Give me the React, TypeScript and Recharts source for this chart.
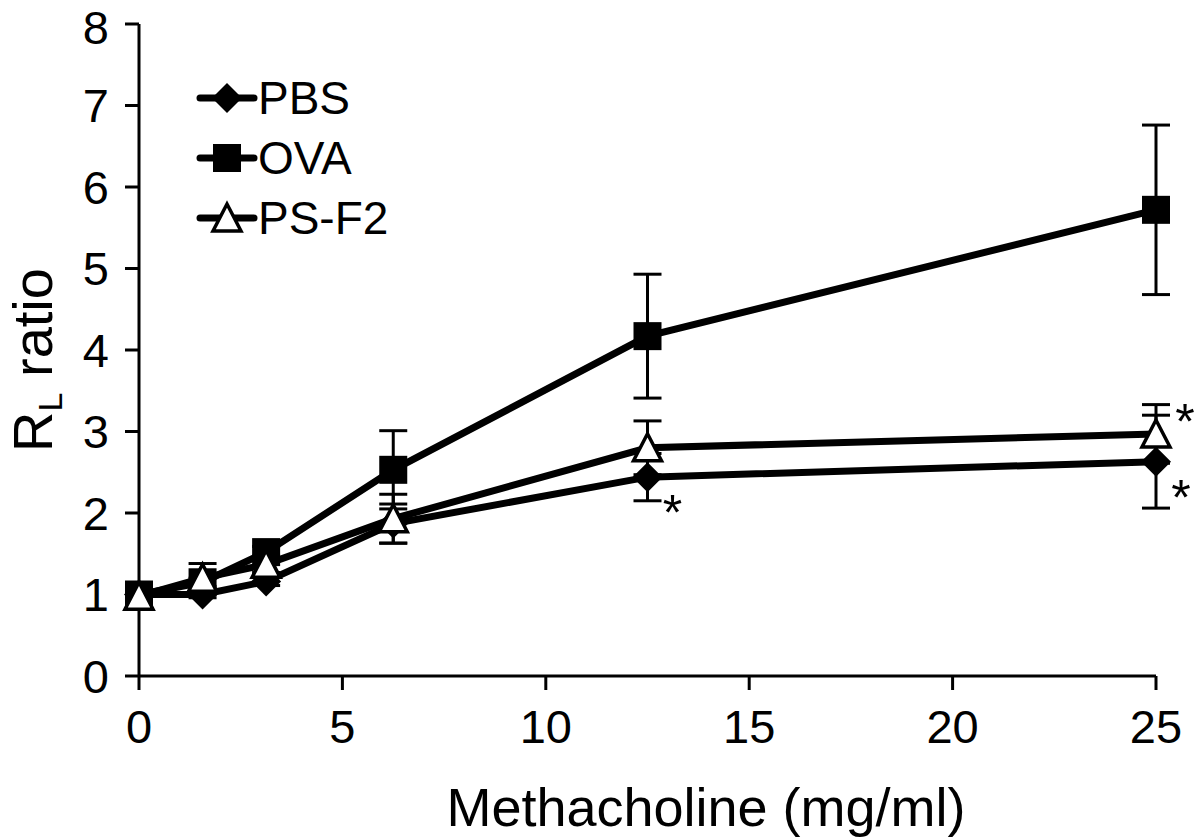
import {
  ErrorBar,
  LabelList,
  Legend,
  Line,
  LineChart,
  XAxis,
  YAxis,
  Label,
} from 'recharts'

// methacholine doses (mg/ml)
const doses = [0, 1.5625, 3.125, 6.25, 12.5, 25]

const pbsMean = [1.0, 1.0, 1.16, 1.87, 2.44, 2.63]
const pbsSem = [0.03, 0.04, 0.05, 0.24, 0.29, 0.57]
const ovaMean = [1.0, 1.15, 1.52, 2.53, 4.17, 5.72]
const ovaSem = [0.03, 0.05, 0.07, 0.48, 0.76, 1.04]
const psMean = [0.98, 1.2, 1.37, 1.93, 2.8, 2.97]
const psSem = [0.03, 0.18, 0.1, 0.3, 0.33, 0.36]

// significance marks
const pbsStars = ['', '', '', '', '*', '*']
const psStars = ['', '', '', '', '', '*']

const xTicks = [0, 5, 10, 15, 20, 25]
const yTicks = [0, 1, 2, 3, 4, 5, 6, 7, 8]

const rows = doses.map((dose, i) => ({
  dose,
  pbs: pbsMean[i],
  pbsErr: pbsSem[i],
  ova: ovaMean[i],
  ovaErr: ovaSem[i],
  ps: psMean[i],
  psErr: psSem[i],
  pbsStar: pbsStars[i],
  psStar: psStars[i],
}))

const FONT = '"Liberation Sans", Arial, sans-serif'

// markers
function Diamond({ cx, cy, r = 15 }: { cx: number; cy: number; r?: number }) {
  return (
    <polygon
      points={`${cx},${cy - r} ${cx + r},${cy} ${cx},${cy + r} ${cx - r},${cy}`}
      fill="#000"
    />
  )
}

function Square({ cx, cy, s = 28 }: { cx: number; cy: number; s?: number }) {
  return <rect x={cx - s / 2} y={cy - s / 2} width={s} height={s} fill="#000" />
}

function Triangle({ cx, cy, r = 14 }: { cx: number; cy: number; r?: number }) {
  return (
    <polygon
      points={`${cx},${cy - r} ${cx + r},${cy + r - 1} ${cx - r},${cy + r - 1}`}
      fill="#fff"
      stroke="#000"
      strokeWidth={3.5}
      strokeLinejoin="miter"
    />
  )
}

const SERIES = [
  { name: 'PBS', Marker: Diamond },
  { name: 'OVA', Marker: Square },
  { name: 'PS-F2', Marker: Triangle },
]

function LegendBox() {
  return (
    <div style={{ fontFamily: FONT }}>
      {SERIES.map(({ name, Marker }) => (
        <div key={name} style={{ display: 'flex', alignItems: 'center', height: 60 }}>
          <svg width={62} height={40} style={{ overflow: 'visible' }}>
            <line x1={4} y1={20} x2={58} y2={20} stroke="#000" strokeWidth={7} strokeLinecap="round" />
            <Marker cx={31} cy={20} />
          </svg>
          <span style={{ fontSize: 46, lineHeight: 1, color: '#000' }}>{name}</span>
        </div>
      ))}
    </div>
  )
}

// eslint-disable-next-line @typescript-eslint/no-explicit-any
const starLabel = (dx: number, dy: number) => (p: any) => {
  if (!p.value) return null
  return (
    <text
      x={p.x + dx}
      y={p.y + dy + 28}
      textAnchor="middle"
      fontSize={50}
      fontFamily={FONT}
      fill="#000"
    >
      {p.value}
    </text>
  )
}

function YTitle() {
  return (
    <text
      x={52}
      y={360}
      transform="rotate(-90 52 360)"
      textAnchor="middle"
      fontSize={56}
      fontFamily={FONT}
      fill="#000"
    >
      R<tspan fontSize={34} dy={10}>L</tspan>
      <tspan dy={-10}> ratio</tspan>
    </text>
  )
}

function XTitle() {
  return (
    <text x={706} y={826} textAnchor="middle" fontSize={54} fontFamily={FONT} fill="#000">
      Methacholine (mg/ml)
    </text>
  )
}

const axisStroke = { stroke: '#000', strokeWidth: 3 }

export default function App() {
  return (
    <div style={{ position: 'absolute', left: 0, top: 0, background: '#fff' }}>
      <LineChart
        width={1200}
        height={840}
        data={rows}
        margin={{ top: 24, right: 44, left: 0, bottom: 0 }}
      >
        <XAxis
          dataKey="dose"
          type="number"
          domain={[0, 25]}
          ticks={xTicks}
          height={164}
          axisLine={axisStroke}
          tickLine={axisStroke}
          tickSize={14}
          tickMargin={20}
          tick={{ fill: '#000', fontSize: 47, fontFamily: FONT }}
        >
          <Label content={XTitle} />
        </XAxis>
        <YAxis
          type="number"
          domain={[0, 8]}
          ticks={yTicks}
          width={139}
          axisLine={axisStroke}
          tickLine={axisStroke}
          tickSize={14}
          tickMargin={16}
          tick={{ fill: '#000', fontSize: 47, fontFamily: FONT }}
        >
          <Label content={YTitle} />
        </YAxis>
        <Legend
          layout="horizontal"
          align="center"
          verticalAlign="middle"
          content={LegendBox}
          wrapperStyle={{ left: 196, top: 68, width: 280 }}
        />
        <Line
          dataKey="ova"
          name="OVA"
          stroke="#000"
          strokeWidth={7}
          isAnimationActive={false}
          dot={(p: any) => <Square key={`o${p.index}`} cx={p.cx} cy={p.cy} />}
          activeDot={false}
        >
          <ErrorBar dataKey="ovaErr" direction="y" width={14} stroke="#000" strokeWidth={3} />
        </Line>
        <Line
          dataKey="pbs"
          name="PBS"
          stroke="#000"
          strokeWidth={7}
          isAnimationActive={false}
          dot={(p: any) => <Diamond key={`p${p.index}`} cx={p.cx} cy={p.cy} />}
          activeDot={false}
        >
          <ErrorBar dataKey="pbsErr" direction="y" width={14} stroke="#000" strokeWidth={3} />
          <LabelList dataKey="pbsStar" content={starLabel(25, 25)} />
        </Line>
        <Line
          dataKey="ps"
          name="PS-F2"
          stroke="#000"
          strokeWidth={7}
          isAnimationActive={false}
          dot={(p: any) => <Triangle key={`s${p.index}`} cx={p.cx} cy={p.cy} />}
          activeDot={false}
        >
          <ErrorBar dataKey="psErr" direction="y" width={14} stroke="#000" strokeWidth={3} />
          <LabelList dataKey="psStar" content={starLabel(29, -23)} />
        </Line>
      </LineChart>
    </div>
  )
}
